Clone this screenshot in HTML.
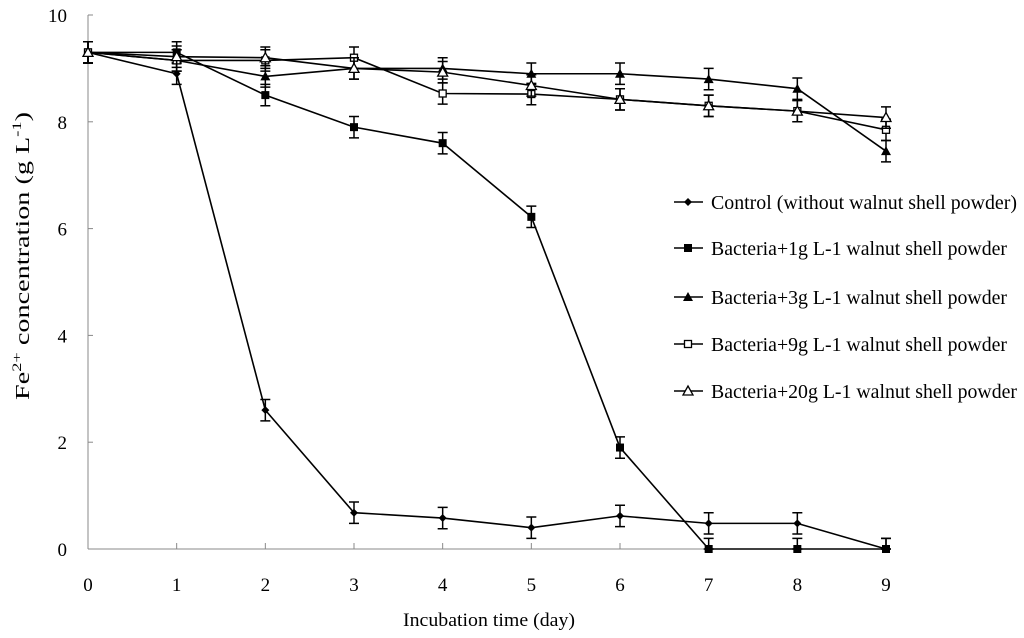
<!DOCTYPE html>
<html><head><meta charset="utf-8"><style>
html,body{margin:0;padding:0;background:#fff;}
svg{display:block;font-family:"Liberation Serif",serif;}
</style></head><body>
<svg id="chart" width="1024" height="638" viewBox="0 0 1024 638">
<g id="axes"></g><g id="series"></g><g id="legend"></g>
<text x="489" y="626" font-size="19" text-anchor="middle" textLength="172" lengthAdjust="spacingAndGlyphs">Incubation time (day)</text>
<text transform="translate(29,256) rotate(-90)" font-size="20" text-anchor="middle" textLength="288" lengthAdjust="spacingAndGlyphs">Fe<tspan font-size="13" dy="-8">2+</tspan><tspan dy="8"> concentration (g L</tspan><tspan font-size="13" dy="-8">-1</tspan><tspan dy="8">)</tspan></text>
</svg>
<script>
const days=[0,1,2,3,4,5,6,7,8,9];
const xTicks=[0,1,2,3,4,5,6,7,8,9];
const yTicks=[0,2,4,6,8,10];
const control=[9.3,8.9,2.6,0.68,0.58,0.4,0.62,0.48,0.48,0];
const bact1g=[9.3,9.3,8.5,7.9,7.6,6.22,1.9,0,0,0];
const bact3g=[9.3,9.15,8.85,9.0,9.0,8.9,8.9,8.8,8.62,7.45];
const bact9g=[9.3,9.15,9.15,9.2,8.53,8.52,8.42,8.3,8.2,7.85];
const bact20g=[9.3,9.22,9.2,9.0,8.93,8.68,8.42,8.3,8.2,8.08];
const errBar=0.2;
const labels=["Control (without walnut shell powder)","Bacteria+1g L-1 walnut shell powder","Bacteria+3g L-1 walnut shell powder","Bacteria+9g L-1 walnut shell powder","Bacteria+20g L-1 walnut shell powder"];
const labelLens=[306,296,296,296,306];

const NS="http://www.w3.org/2000/svg";
const X=d=>88+d*(886-88)/9;
const Y=v=>549-v*(549-15)/10;
function mk(t,a,p){const e=document.createElementNS(NS,t);for(const k in a)e.setAttribute(k,a[k]);p.appendChild(e);return e;}
const axes=document.getElementById('axes');
let e;
e=mk('line',{x1:88,y1:15,x2:88,y2:549,stroke:'#888','stroke-width':1},axes);


e=mk('line',{x1:88,y1:549,x2:886,y2:549,stroke:'#888','stroke-width':1},axes);


yTicks.forEach(v=>{
 mk('line',{x1:88,x2:93,y1:Y(v),y2:Y(v),stroke:'#888'},axes);
 e=mk('text',{x:67,y:Y(v)+7,'font-size':19,'text-anchor':'end'},axes);e.textContent=v;
 
 
});
xTicks.forEach(v=>{
 mk('line',{x1:X(v),x2:X(v),y1:543,y2:549,stroke:'#888'},axes);
 e=mk('text',{x:X(v),y:591,'font-size':19,'text-anchor':'middle'},axes);e.textContent=v;
 
 
});
function marker(type,x,y,p){
 if(type==='diamond')return mk('polygon',{points:`${x},${y-4} ${x+4},${y} ${x},${y+4} ${x-4},${y}`,fill:'#000'},p);
 if(type==='square')return mk('rect',{x:x-4,y:y-4,width:8,height:8,fill:'#000'},p);
 if(type==='square-open')return mk('rect',{x:x-3.5,y:y-3.5,width:7,height:7,fill:'#fff',stroke:'#000','stroke-width':1.3},p);
 if(type==='tri')return mk('polygon',{points:`${x},${y-5} ${x+5},${y+4} ${x-5},${y+4}`,fill:'#000'},p);
 return mk('polygon',{points:`${x},${y-5} ${x+5},${y+4} ${x-5},${y+4}`,fill:'#fff',stroke:'#000','stroke-width':1.3},p);
}
const S=[[control,'diamond','control'],[bact1g,'square','bacteria-1g'],[bact3g,'tri','bacteria-3g'],[bact9g,'square-open','bacteria-9g'],[bact20g,'tri-open','bacteria-20g']];
const sg=document.getElementById('series');
S.forEach(([vals,m,name])=>{
 const g=mk('g',{},sg);
 
 
 const l=mk('polyline',{points:vals.map((v,i)=>X(days[i])+','+Y(v)).join(' '),fill:'none',stroke:'#000','stroke-width':1.6},g);
 
 
 vals.forEach((v,i)=>{
  const x=X(days[i]),y1=Y(v+errBar),y2=Y(Math.max(0,v-errBar));
  mk('path',{d:`M${x},${y1}V${y2}M${x-5},${y1}H${x+5}M${x-5},${y2}H${x+5}`,stroke:'#000','stroke-width':1.5,fill:'none'},g);
  const mm=marker(m,x,Y(v),g);
  
  
 });
});
const lg=document.getElementById('legend');
const ly=[202,248,297,344,391];
S.forEach(([v,m,name],i)=>{
 const g=mk('g',{},lg);
 
 
 mk('line',{x1:674,x2:703,y1:ly[i],y2:ly[i],stroke:'#000','stroke-width':1.6},g);
 marker(m,688,ly[i],g);
 const t=mk('text',{x:711,y:ly[i]+7,'font-size':20,textLength:labelLens[i],lengthAdjust:'spacingAndGlyphs'},g);t.textContent=labels[i];
});
</script>
</body></html>
